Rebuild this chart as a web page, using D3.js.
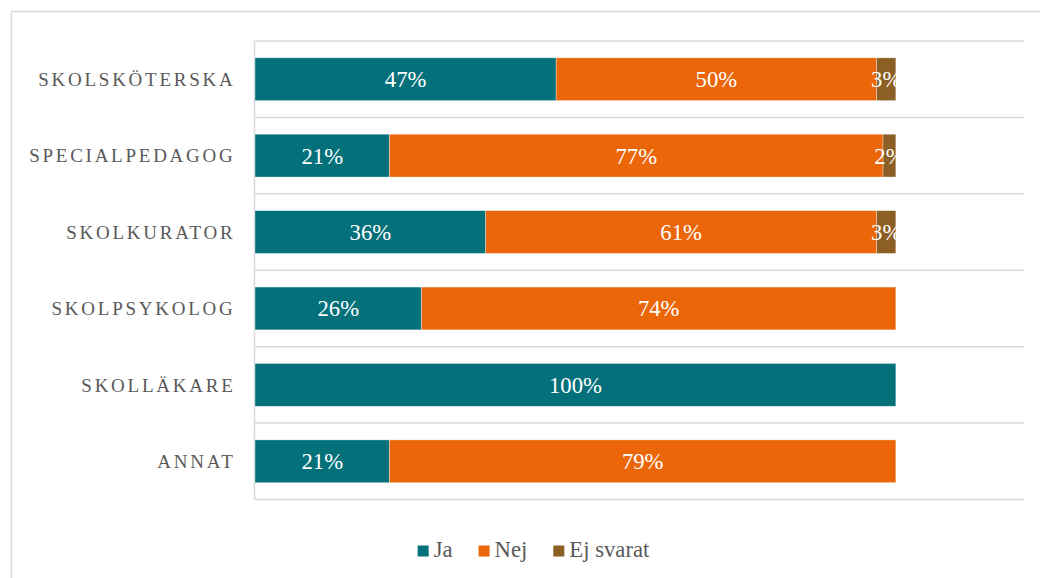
<!DOCTYPE html>
<html>
<head>
<meta charset="utf-8">
<script src="https://cdn.jsdelivr.net/npm/d3@7"></script>
<style>
  html, body { margin: 0; padding: 0; background: #fff; }
  svg { display: block; }
  .serif { font-family: "Liberation Serif", "Times New Roman", Times, "Nimbus Roman", Tinos, "DejaVu Serif", serif; }
</style>
</head>
<body>
<svg id="chart" width="1040" height="578"></svg>
<script>
// Roles asked about, top to bottom
const categories = ["SKOLSKÖTERSKA", "SPECIALPEDAGOG", "SKOLKURATOR", "SKOLPSYKOLOG", "SKOLLÄKARE", "ANNAT"];
// Share of answers per role (fractions)
const ja       = [0.47, 0.21, 0.36, 0.26, 1.00, 0.21];
const nej      = [0.50, 0.77, 0.61, 0.74, 0.00, 0.79];
const ejSvarat = [0.03, 0.02, 0.03, 0.00, 0.00, 0.00];
const seriesNames = ["Ja", "Nej", "Ej svarat"];
const seriesColors = ["#03707A", "#EB6608", "#8C5F24"];

const rows = categories.map((c, i) => ({ cat: c, Ja: ja[i], Nej: nej[i], "Ej svarat": ejSvarat[i] }));

const svg = d3.select("#chart");
const W = 1040, H = 578;
const plot = { left: 255, right: 1024, top: 41, bottom: 499.5 };

// outer chart frame
svg.append("rect")
  .attr("x", 11.5).attr("y", 11.5)
  .attr("width", W + 20).attr("height", H + 20)
  .attr("fill", "none").attr("stroke", "#d9d9d9").attr("stroke-width", 1.5);

const x = d3.scaleLinear().domain([0, 1.2]).range([plot.left, plot.right]);
const y = d3.scaleBand().domain(categories).range([plot.top, plot.bottom])
  .paddingInner(0.44).paddingOuter(0.22);

// horizontal separators between categories
const bounds = categories.map(c => y(c) - y.step() * y.paddingInner() / 2);
bounds.push(plot.bottom);
svg.append("g").selectAll("line").data(bounds).join("line")
  .attr("x1", plot.left).attr("x2", plot.right)
  .attr("y1", d => d).attr("y2", d => d)
  .attr("stroke", "#d9d9d9").attr("stroke-width", 1.5);

// category axis line
svg.append("line")
  .attr("x1", plot.left - 0.5).attr("x2", plot.left - 0.5)
  .attr("y1", plot.top).attr("y2", plot.bottom)
  .attr("stroke", "#d9d9d9").attr("stroke-width", 1.5);

const stack = d3.stack().keys(seriesNames)(rows);
const color = d3.scaleOrdinal().domain(seriesNames).range(seriesColors);

const bars = svg.append("g");
stack.forEach(layer => {
  bars.append("g").attr("fill", color(layer.key))
    .selectAll("rect").data(layer.filter(d => d[1] - d[0] > 0)).join("rect")
    .attr("x", d => x(d[0]))
    .attr("y", d => y(d.data.cat))
    .attr("width", d => x(d[1]) - x(d[0]))
    .attr("height", y.bandwidth())
    .attr("stroke", "#ffffff").attr("stroke-opacity", 0.45).attr("stroke-width", 0.75);
});

// value labels, cut off at the end of the 100% bar
svg.append("clipPath").attr("id", "barClip")
  .append("rect").attr("x", x(0)).attr("y", 0)
  .attr("width", x(1) - x(0)).attr("height", H);

const labels = svg.append("g").attr("clip-path", "url(#barClip)");
stack.forEach(layer => {
  labels.append("g").selectAll("text").data(layer.filter(d => d[1] - d[0] > 0)).join("text")
    .attr("class", "serif")
    .attr("x", d => (x(d[0]) + x(d[1])) / 2)
    .attr("y", d => y(d.data.cat) + y.bandwidth() / 2)
    .attr("dy", "0.35em")
    .attr("text-anchor", "middle")
    .attr("font-size", 22.7)
    .attr("fill", "#ffffff")
    .text(d => d3.format(".0%")(d[1] - d[0]));
});

// category labels
svg.append("g").selectAll("text").data(categories).join("text")
  .attr("class", "serif")
  .attr("x", 235.5)
  .attr("y", d => y(d) + y.bandwidth() / 2)
  .attr("dy", "0.35em")
  .attr("text-anchor", "end")
  .attr("font-size", 19)
  .attr("letter-spacing", 2.75)
  .attr("fill", "#595959")
  .text(d => d);

// legend
const legend = svg.append("g");
const items = legend.selectAll("g").data(seriesNames).join("g");
items.append("rect")
  .attr("width", 11).attr("height", 11).attr("y", -11.5)
  .attr("fill", d => color(d));
items.append("text")
  .attr("class", "serif")
  .attr("x", 16).attr("y", 0)
  .attr("font-size", 22.7)
  .attr("fill", "#595959")
  .text(d => d);
let cx = 0;
const widths = [];
items.each(function() {
  const w = 16 + d3.select(this).select("text").node().getComputedTextLength();
  widths.push(w);
});
items.attr("transform", (d, i) => {
  const t = `translate(${cx},0)`;
  cx += widths[i] + 26;
  return t;
});
const total = cx - 26;
legend.attr("transform", `translate(${533.5 - total / 2},557)`);
</script>
</body>
</html>
